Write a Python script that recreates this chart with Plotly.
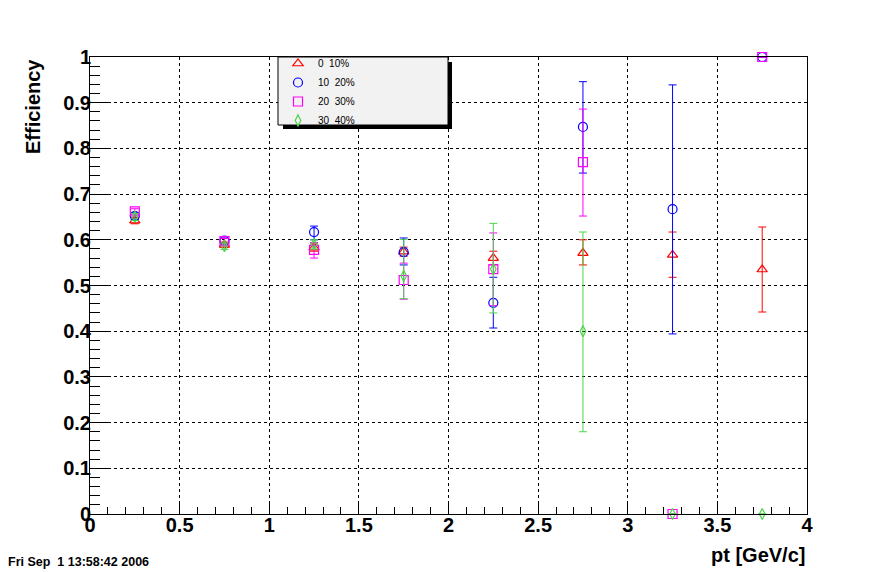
import plotly.graph_objects as go

# ---- data ----
pt = [0.25, 0.75, 1.25, 1.75, 2.25, 2.75, 3.25, 3.75]

eff_0_10 = [0.642, 0.589, 0.583, 0.574, 0.560, 0.571, 0.567, 0.535]
errp_0_10 = [0.007, 0.006, 0.008, 0.010, 0.015, 0.029, 0.050, 0.093]
errm_0_10 = [0.007, 0.006, 0.008, 0.010, 0.015, 0.026, 0.049, 0.093]

eff_10_20 = [0.652, 0.598, 0.617, 0.573, 0.462, 0.847, 0.667, 1.0]
errp_10_20 = [0.008, 0.006, 0.013, 0.031, 0.056, 0.099, 0.272, 0.0]
errm_10_20 = [0.008, 0.006, 0.017, 0.028, 0.055, 0.101, 0.273, 0.0]

eff_20_30 = [0.662, 0.597, 0.578, 0.512, 0.536, 0.770, 0.0, 1.0]
errp_20_30 = [0.006, 0.006, 0.016, 0.037, 0.079, 0.116, 0.0, 0.0]
errm_20_30 = [0.006, 0.006, 0.018, 0.042, 0.080, 0.118, 0.0, 0.0]

eff_30_40 = [0.650, 0.586, 0.590, 0.521, 0.536, 0.400, 0.0, 0.0]
errp_30_40 = [0.008, 0.007, 0.010, 0.080, 0.100, 0.217, 0.0, 0.0]
errm_30_40 = [0.008, 0.007, 0.010, 0.050, 0.096, 0.220, 0.0, 0.0]

names = ["0\u00a0\u00a010%", "10\u00a0\u00a020%", "20\u00a0\u00a030%", "30\u00a0\u00a040%"]

# ---- layout geometry (pixels) ----
W, H = 896, 572
L, R, T, B = 90, 807, 57, 514
pw, ph = R - L, B - T

def px_x(p):
    return (p - L) / pw

def px_y(p):
    return (B - p) / ph

series = [
    (eff_0_10, errp_0_10, errm_0_10, "#ff0000", "triangle-up-open", 9),
    (eff_10_20, errp_10_20, errm_10_20, "#0000ff", "circle-open", 9),
    (eff_20_30, errp_20_30, errm_20_30, "#ff00ff", "square-open", 9),
    (eff_30_40, errp_30_40, errm_30_40, "#4cd44c", "diamond-tall-open", 8),
]

fig = go.Figure()
for (y, ep, em, col, sym, sz), nm in zip(series, names):
    fig.add_trace(go.Scatter(
        x=pt, y=y, mode="markers", name=nm,
        marker=dict(symbol=sym, size=sz, color=col, line=dict(color=col, width=1.2)),
        error_y=dict(type="data", symmetric=False, array=ep, arrayminus=em,
                     color=col, thickness=1, width=4),
        cliponaxis=False,
    ))

font_bold = dict(family="Liberation Sans, Arial, sans-serif", size=20, color="black", weight="bold")

fig.update_layout(
    width=W, height=H,
    margin=dict(l=L, r=W - R, t=T, b=H - B),
    paper_bgcolor="white", plot_bgcolor="white",
    showlegend=True,
    legend=dict(
        x=px_x(278), y=px_y(49), xanchor="left", yanchor="top",
        bgcolor="rgba(0,0,0,0)", borderwidth=0,
        font=dict(family="Liberation Sans, Arial, sans-serif", size=10, color="black"),
        tracegroupgap=0,
    ),
    xaxis=dict(
        range=[0, 4], tick0=0, dtick=0.5,
        showline=True, linecolor="black", linewidth=1, mirror=True,
        ticks="inside", ticklen=13, tickcolor="black", tickwidth=1,
        showgrid=True, gridcolor="black", griddash="dot", gridwidth=1,
        zeroline=False, tickfont=font_bold, ticklabelstandoff=-7,
        minor=dict(dtick=0.1, ticks="inside", ticklen=7, tickcolor="black", showgrid=False),
    ),
    yaxis=dict(
        range=[0, 1], tick0=0, dtick=0.1,
        showline=True, linecolor="black", linewidth=1, mirror=True,
        ticks="inside", ticklen=20, tickcolor="black", tickwidth=1,
        showgrid=True, gridcolor="black", griddash="dot", gridwidth=1,
        zeroline=False, tickfont=font_bold, ticklabelstandoff=-6,
        minor=dict(dtick=0.02, ticks="inside", ticklen=10, tickcolor="black", showgrid=False),
    ),
    shapes=[
        dict(type="rect", xref="paper", yref="paper",
             x0=px_x(283), x1=px_x(452), y0=px_y(129), y1=px_y(62),
             fillcolor="black", line=dict(width=0), layer="above"),
        dict(type="rect", xref="paper", yref="paper",
             x0=px_x(278), x1=px_x(448), y0=px_y(125), y1=px_y(57),
             fillcolor="#f2f2f2", line=dict(color="black", width=1), layer="above"),
    ],
    annotations=[
        dict(text="Efficiency", xref="paper", yref="paper",
             x=px_x(33), y=px_y(107), xanchor="center", yanchor="middle",
             textangle=-90, showarrow=False, font=font_bold),
        dict(text="pt [GeV/c]", xref="paper", yref="paper",
             x=1.0, y=px_y(555), xanchor="right", yanchor="middle",
             showarrow=False, font=font_bold),
        dict(text="Fri Sep\u00a0\u00a01 13:58:42 2006", xref="paper", yref="paper",
             x=px_x(6), y=px_y(562), xanchor="left", yanchor="middle",
             showarrow=False,
             font=dict(family="Liberation Sans, Arial, sans-serif", size=12.5, color="black", weight="bold")),
    ],
)

fig.write_html(
    "out.html",
    config={"displayModeBar": False},
    post_script="document.body.style.margin='0';document.body.style.padding='0';"
                "document.body.style.overflow='hidden';",
)
